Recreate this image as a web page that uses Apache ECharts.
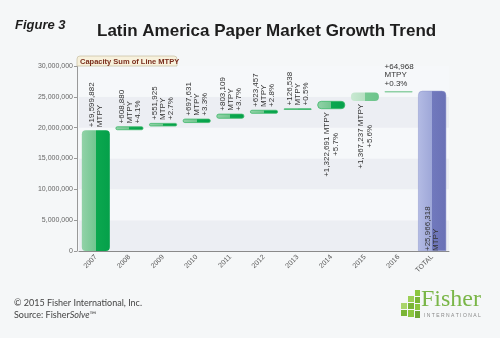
<!DOCTYPE html>
<html><head><meta charset="utf-8">
<script src="https://cdn.jsdelivr.net/npm/echarts@6/dist/echarts.min.js"></script>
<style>html,body{margin:0;padding:0;background:#f5f7f8;}#c{width:500px;height:338px;}</style>
</head><body><div id="c"></div>
<script>
var categories = ['2007','2008','2009','2010','2011','2012','2013','2014','2015','2016','TOTAL'];
var increments = [19599882, 608880, 551925, 697631, 803109, 623457, 126538, 1322691, 1367237, 64968];
var totalValue = 25966318;
var pctLabels = ['', '+4.1%', '+2.7%', '+3.3%', '+3.7%', '+2.8%', '+0.5%', '+5.7%', '+5.6%', '+0.3%'];
var yTicks = [0, 5000000, 10000000, 15000000, 20000000, 25000000, 30000000];

function fmt(n){ return n.toLocaleString('en-US'); }
function grad(l1,l2,r1,r2){
  return new echarts.graphic.LinearGradient(0,0,1,0,[
    {offset:0,color:l1},{offset:0.5,color:l2},{offset:0.5,color:r1},{offset:1,color:r2}]);
}
var greenG = grad('#92d2a8','#72c690','#0ba84f','#05a04a');
var paleG = grad('#c9e9d2','#b6e0c2','#76c992','#6cc48b');
var blueG = grad('#b3bbe4','#9ea7d8','#7179bd','#6a71b6');

var bases = [], vals = [];
var cum = 0;
var font = 'Liberation Sans';
increments.forEach(function(v,i){
  bases.push(cum);
  var label;
  if (i <= 6) {
    label = {show:true, position:'top', distance:3, rotate:90, align:'left', verticalAlign:'middle',
      fontFamily:font, fontSize:8, lineHeight:8, color:'#333',
      formatter: '+' + fmt(v) + '\nMTPY' + (pctLabels[i] ? '\n' + pctLabels[i] : '')};
  } else if (i <= 8) {
    label = {show:true, position:'bottom', distance:3, rotate:90, align:'right', verticalAlign:'middle',
      fontFamily:font, fontSize:8, lineHeight:9, color:'#333',
      formatter: '{a|+' + fmt(v) + ' MTPY}\n{b|' + pctLabels[i] + '}',
      rich:{a:{fontFamily:font,fontSize:8,color:'#333',lineHeight:9},b:{fontFamily:font,fontSize:8,color:'#333',lineHeight:9,align:'center'}}};
  } else {
    label = {show:true, position:[0,-3], align:'left', verticalAlign:'bottom',
      fontFamily:font, fontSize:8, lineHeight:8.5, color:'#333',
      formatter: '+' + fmt(v) + '\nMTPY\n' + pctLabels[i]};
  }
  var color = i <= 7 ? greenG : (i === 8 ? paleG : '#8fd0a5');
  var border = i <= 7 ? '#3db86a' : (i === 8 ? '#9ad6ad' : '#8fd0a5');
  vals.push({value:v, itemStyle:{color:color, borderRadius:4, borderColor:border, borderWidth:(i >= 1 && i <= 7) ? 0.8 : 0}, label:label});
  cum += v;
});
bases.push(0);
vals.push({value: totalValue, itemStyle:{color:blueG, borderRadius:[4,4,0,0], borderColor:'#8f97cc', borderWidth:0.5},
  label:{show:true, position:'insideBottom', distance:2, rotate:90, align:'left', verticalAlign:'middle',
    fontFamily:font, fontSize:8, lineHeight:8, color:'#333', offset:[-2,0],
    formatter:'+' + fmt(totalValue) + '\nMTPY'}});

var chart = echarts.init(document.getElementById('c'), null, {renderer:'canvas'});
chart.setOption({
  backgroundColor:'#f5f7f8',
  animation:false,
  grid:{left:79, right:51, top:66, bottom:87},
  xAxis:{type:'category', data:categories,
    axisLine:{lineStyle:{color:'#8a8a8a'}},
    axisTick:{alignWithLabel:true, length:3, lineStyle:{color:'#8a8a8a'}},
    axisLabel:{rotate:45, fontFamily:font, fontSize:7, color:'#555', margin:5, interval:0}},
  yAxis:{type:'value', min:0, max:30000000, interval:5000000, offset:2,
    axisLine:{show:true, lineStyle:{color:'#999'}},
    axisTick:{show:true, length:3, lineStyle:{color:'#999'}},
    splitLine:{show:false},
    splitArea:{show:true, areaStyle:{color:['#eceef3','#f6f8fa']}},
    axisLabel:{fontFamily:font, fontSize:7, color:'#666', margin:4,
      formatter:function(v){ return fmt(v); }}},
  series:[
    {type:'bar', stack:'w', data:bases, barWidth:28, itemStyle:{color:'transparent'}, silent:true, emphasis:{disabled:true}},
    {type:'bar', stack:'w', data:vals, barWidth:28, barMinHeight:1.5}
  ],
  graphic:[
    {type:'rect', shape:{x:77, y:56, width:100, height:10, r:[3,3,0,0]}, style:{fill:'#f7f1dc', stroke:'#cbc4a8', lineWidth:0.8}, z:10},
    {type:'text', x:80, y:61.5, style:{text:'Capacity Sum of Line MTPY', fontFamily:'Liberation Sans', fontWeight:'bold', fontSize:7.5, fill:'#7a2d1c', textVerticalAlign:'middle'}, z:11},
    {type:'text', x:15, y:25, style:{text:'Figure 3', fontFamily:'Liberation Sans', fontWeight:'bold', fontStyle:'italic', fontSize:13, fill:'#1e1e1e', textVerticalAlign:'middle'}},
    {type:'text', x:97, y:31, style:{text:'Latin America Paper Market Growth Trend', fontFamily:'Liberation Sans', fontWeight:'bold', fontSize:17, fill:'#1e1e1e', textVerticalAlign:'middle'}},
    {type:'text', x:14, y:303, style:{text:'\u00a9 2015 Fisher International, Inc.', fontFamily:'Lato', fontSize:9, fill:'#444', textVerticalAlign:'middle'}},
    {type:'text', x:14, y:315, style:{text:'Source: Fisher{i|Solve}\u2122', fontFamily:'Lato', fontSize:9, fill:'#444', textVerticalAlign:'middle',
      rich:{i:{fontStyle:'italic', fontFamily:'Lato', fontSize:9, fill:'#444'}}}},
    {type:'group', children:[
      {type:'rect', shape:{x:415, y:290, width:5, height:6}, style:{fill:'#8cc63f'}},
      {type:'rect', shape:{x:415, y:297, width:5, height:6}, style:{fill:'#7ab536'}},
      {type:'rect', shape:{x:415, y:304, width:5, height:6}, style:{fill:'#8cc63f'}},
      {type:'rect', shape:{x:415, y:311, width:5, height:7}, style:{fill:'#6fa832'}},
      {type:'rect', shape:{x:408, y:296, width:6, height:6}, style:{fill:'#9ccf55'}},
      {type:'rect', shape:{x:408, y:303, width:6, height:6}, style:{fill:'#7ab536'}},
      {type:'rect', shape:{x:408, y:310, width:6, height:7}, style:{fill:'#8cc63f'}},
      {type:'rect', shape:{x:401, y:303, width:6, height:6}, style:{fill:'#a9d46a'}},
      {type:'rect', shape:{x:401, y:310, width:6, height:6}, style:{fill:'#7ab536'}}
    ]},
    {type:'text', x:421, y:300, style:{text:'Fisher', fontFamily:'Liberation Serif', fontSize:24, fill:'#7ab648', textVerticalAlign:'middle'}},
    {type:'text', x:424, y:316, style:{text:'I N T E R N A T I O N A L', fontFamily:'Liberation Sans', fontSize:5, fill:'#888', textVerticalAlign:'middle'}}
  ]
});
</script></body></html>
